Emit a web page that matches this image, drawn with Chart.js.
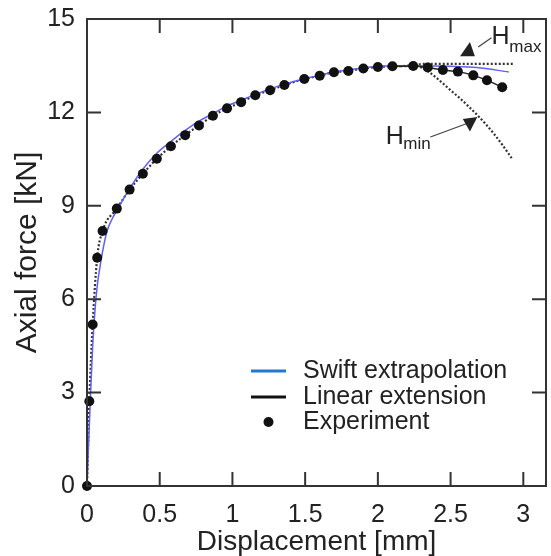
<!DOCTYPE html>
<html><head><meta charset="utf-8">
<script src="https://cdn.jsdelivr.net/npm/chart.js@4.4.1/dist/chart.umd.min.js"></script>
<style>html,body{margin:0;padding:0;background:#fff}#wrap{width:551px;height:556px;position:relative}</style>
</head><body><div id="wrap"><canvas id="c" width="551" height="556"></canvas></div>
<script>
const xTicks = [0, 0.5, 1, 1.5, 2, 2.5, 3];
const yTicks = [0, 3, 6, 9, 12, 15];

const expX = [0, 0.016, 0.039, 0.07, 0.107, 0.205, 0.293, 0.384, 0.48, 0.577, 0.675, 0.77, 0.866, 0.963, 1.06, 1.157, 1.259, 1.357, 1.494, 1.6, 1.698, 1.797, 1.9, 2.0, 2.1, 2.243, 2.343, 2.447, 2.55, 2.656, 2.75, 2.855];
const expY = [0, 2.72, 5.19, 7.33, 8.19, 8.91, 9.52, 10.03, 10.51, 10.91, 11.27, 11.58, 11.89, 12.13, 12.33, 12.55, 12.71, 12.88, 13.07, 13.18, 13.29, 13.33, 13.41, 13.46, 13.48, 13.49, 13.44, 13.36, 13.31, 13.19, 13.03, 12.81];

const swiftX = [0, 0.012, 0.025, 0.04, 0.061, 0.075, 0.089, 0.11, 0.138, 0.175, 0.213, 0.293, 0.38, 0.48, 0.58, 0.675, 0.77, 0.866, 0.96, 1.06, 1.2, 1.35, 1.5, 1.7, 1.9, 2.1, 2.3, 2.5, 2.68, 2.9];
const swiftY = [0, 1.5, 3.0, 4.6, 6.0, 6.6, 7.03, 7.6, 8.19, 8.6, 8.91, 9.55, 10.15, 10.69, 11.08, 11.42, 11.72, 11.96, 12.2, 12.39, 12.65, 12.9, 13.08, 13.3, 13.43, 13.5, 13.5, 13.48, 13.44, 13.3];

const linX = [2.1, 2.243, 2.343, 2.447, 2.55, 2.656, 2.75, 2.855];
const linY = [13.48, 13.49, 13.44, 13.36, 13.31, 13.19, 13.03, 12.81];

const hmaxX = [0, 0.016, 0.039, 0.07, 0.107, 0.205, 0.293, 0.384, 0.48, 0.577, 0.675, 0.77, 0.866, 0.963, 1.06, 1.157, 1.259, 1.357, 1.494, 1.6, 1.698, 1.797, 1.9, 2.0, 2.1, 2.243, 2.32, 2.6, 2.93];
const hmaxY = [0, 2.72, 5.19, 7.33, 8.19, 8.91, 9.52, 10.03, 10.51, 10.91, 11.27, 11.58, 11.89, 12.13, 12.33, 12.55, 12.71, 12.88, 13.07, 13.18, 13.29, 13.33, 13.41, 13.46, 13.48, 13.51, 13.56, 13.56, 13.56];

const hminX = [2.1, 2.243, 2.3, 2.35, 2.4, 2.45, 2.5, 2.56, 2.62, 2.68, 2.74, 2.8, 2.86, 2.92];
const hminY = [13.48, 13.49, 13.44, 13.30, 13.12, 12.92, 12.71, 12.47, 12.21, 11.93, 11.63, 11.30, 10.93, 10.53];

const legendLabels = ['Swift extrapolation', 'Linear extension', 'Experiment'];
const xTitle = 'Displacement [mm]';
const yTitle = 'Axial force [kN]';

const pts = (xs, ys) => xs.map((x, i) => ({x: x, y: ys[i]}));
const FONT = '"Liberation Sans", Arial, Helvetica, sans-serif';
const INK = '#222';

const framePlugin = {
  id: 'frame',
  afterDatasetsDraw(chart) {
    const {ctx, chartArea: a, scales: {x, y}} = chart;
    ctx.save();
    ctx.strokeStyle = '#333';
    ctx.lineWidth = 2;
    ctx.strokeRect(a.left, a.top, a.right - a.left, a.bottom - a.top);
    const tl = 14;
    ctx.beginPath();
    xTicks.forEach(v => {
      const px = x.getPixelForValue(v);
      ctx.moveTo(px, a.bottom); ctx.lineTo(px, a.bottom - tl);
      ctx.moveTo(px, a.top); ctx.lineTo(px, a.top + tl);
    });
    yTicks.forEach(v => {
      const py = y.getPixelForValue(v);
      ctx.moveTo(a.left, py); ctx.lineTo(a.left + tl, py);
      ctx.moveTo(a.right, py); ctx.lineTo(a.right - tl, py);
    });
    ctx.stroke();

    // annotations (in data coordinates)
    const P = (dx, dy) => [x.getPixelForValue(dx), y.getPixelForValue(dy)];
    ctx.fillStyle = INK;
    ctx.strokeStyle = '#444';
    ctx.lineWidth = 1.3;
    const arrow = (l0, l1, t) => {
      ctx.beginPath();
      ctx.moveTo(...P(...l0)); ctx.lineTo(...P(...l1)); ctx.stroke();
      ctx.beginPath();
      ctx.moveTo(...P(...t[0])); ctx.lineTo(...P(...t[1])); ctx.lineTo(...P(...t[2])); ctx.closePath();
      ctx.fill();
    };
    arrow([2.69, 14.10], [2.781, 14.40], [[2.633, 14.26], [2.565, 13.80], [2.667, 13.80]]);
    arrow([2.361, 11.21], [2.622, 11.66], [[2.584, 11.79], [2.684, 11.85], [2.633, 11.39]]);
    ctx.textBaseline = 'alphabetic';
    ctx.textAlign = 'left';
    const label = (hPos, subPos, sub) => {
      ctx.font = '25px ' + FONT;
      ctx.fillText('H', ...P(...hPos));
      ctx.font = '17px ' + FONT;
      ctx.fillText(sub, ...P(...subPos));
    };
    label([2.781, 14.21], [2.904, 13.93], 'max');
    label([2.054, 11.00], [2.175, 10.84], 'min');

    // legend
    const lx0 = 251, lx1 = 286, tx = 303;
    const rows = [371, 397, 422];
    ctx.font = '25px ' + FONT;
    ctx.textBaseline = 'middle';
    ctx.lineWidth = 3;
    ctx.strokeStyle = '#2378d0';
    ctx.beginPath(); ctx.moveTo(lx0, rows[0]); ctx.lineTo(lx1, rows[0]); ctx.stroke();
    ctx.strokeStyle = '#111';
    ctx.beginPath(); ctx.moveTo(lx0, rows[1]); ctx.lineTo(lx1, rows[1]); ctx.stroke();
    ctx.fillStyle = '#111';
    ctx.beginPath(); ctx.arc((lx0 + lx1) / 2, rows[2], 5, 0, Math.PI * 2); ctx.fill();
    ctx.fillStyle = INK;
    legendLabels.forEach((t, i) => ctx.fillText(t, tx, rows[i]));
    ctx.restore();
  }
};

new Chart(document.getElementById('c'), {
  type: 'scatter',
  data: {
    datasets: [
      {label: legendLabels[2], data: pts(expX, expY), showLine: false, pointRadius: 5, pointHoverRadius: 5,
       backgroundColor: '#111', borderColor: '#111', borderWidth: 0, order: 0, clip: false},
      {label: legendLabels[1], data: pts(linX, linY), showLine: true, pointRadius: 0, borderColor: '#222',
       borderWidth: 1.5, cubicInterpolationMode: 'monotone', order: 1},
      {label: legendLabels[0], data: pts(swiftX, swiftY), showLine: true, pointRadius: 0, borderColor: 'rgb(95,95,250)',
       borderWidth: 1.5, cubicInterpolationMode: 'monotone', order: 2},
      {label: 'Hmax', data: pts(hmaxX, hmaxY), showLine: true, pointRadius: 0, borderColor: '#333',
       borderWidth: 2.2, borderDash: [2, 2], cubicInterpolationMode: 'monotone', order: 3},
      {label: 'Hmin', data: pts(hminX, hminY), showLine: true, pointRadius: 0, borderColor: '#333',
       borderWidth: 2.2, borderDash: [2, 2], cubicInterpolationMode: 'monotone', order: 3}
    ]
  },
  options: {
    responsive: false,
    animation: false,
    devicePixelRatio: 1,
    layout: {padding: {top: 18, right: 1, left: 0, bottom: 0}},
    plugins: {legend: {display: false}, tooltip: {enabled: false}},
    scales: {
      x: {
        type: 'linear', min: 0, max: 3.156,
        grid: {display: false}, border: {display: false},
        afterBuildTicks: s => { s.ticks = xTicks.map(v => ({value: v})); },
        afterFit: s => { s.height = 70; },
        ticks: {color: INK, font: {family: FONT, size: 25}, padding: 6, maxRotation: 0, autoSkip: false,
                callback: v => String(v)},
        title: {display: true, text: xTitle, color: INK, font: {family: FONT, size: 28}, padding: {top: 0, bottom: -3}}
      },
      y: {
        type: 'linear', min: 0, max: 15,
        grid: {display: false}, border: {display: false},
        afterBuildTicks: s => { s.ticks = yTicks.map(v => ({value: v})); },
        afterFit: s => { s.width = 87; },
        ticks: {color: INK, font: {family: FONT, size: 25}, padding: 4, autoSkip: false,
                callback: v => String(v)},
        title: {display: true, text: yTitle, color: INK, font: {family: FONT, size: 30}, padding: {top: 10, bottom: 0}}
      }
    }
  },
  plugins: [framePlugin]
});
</script>
</body></html>
